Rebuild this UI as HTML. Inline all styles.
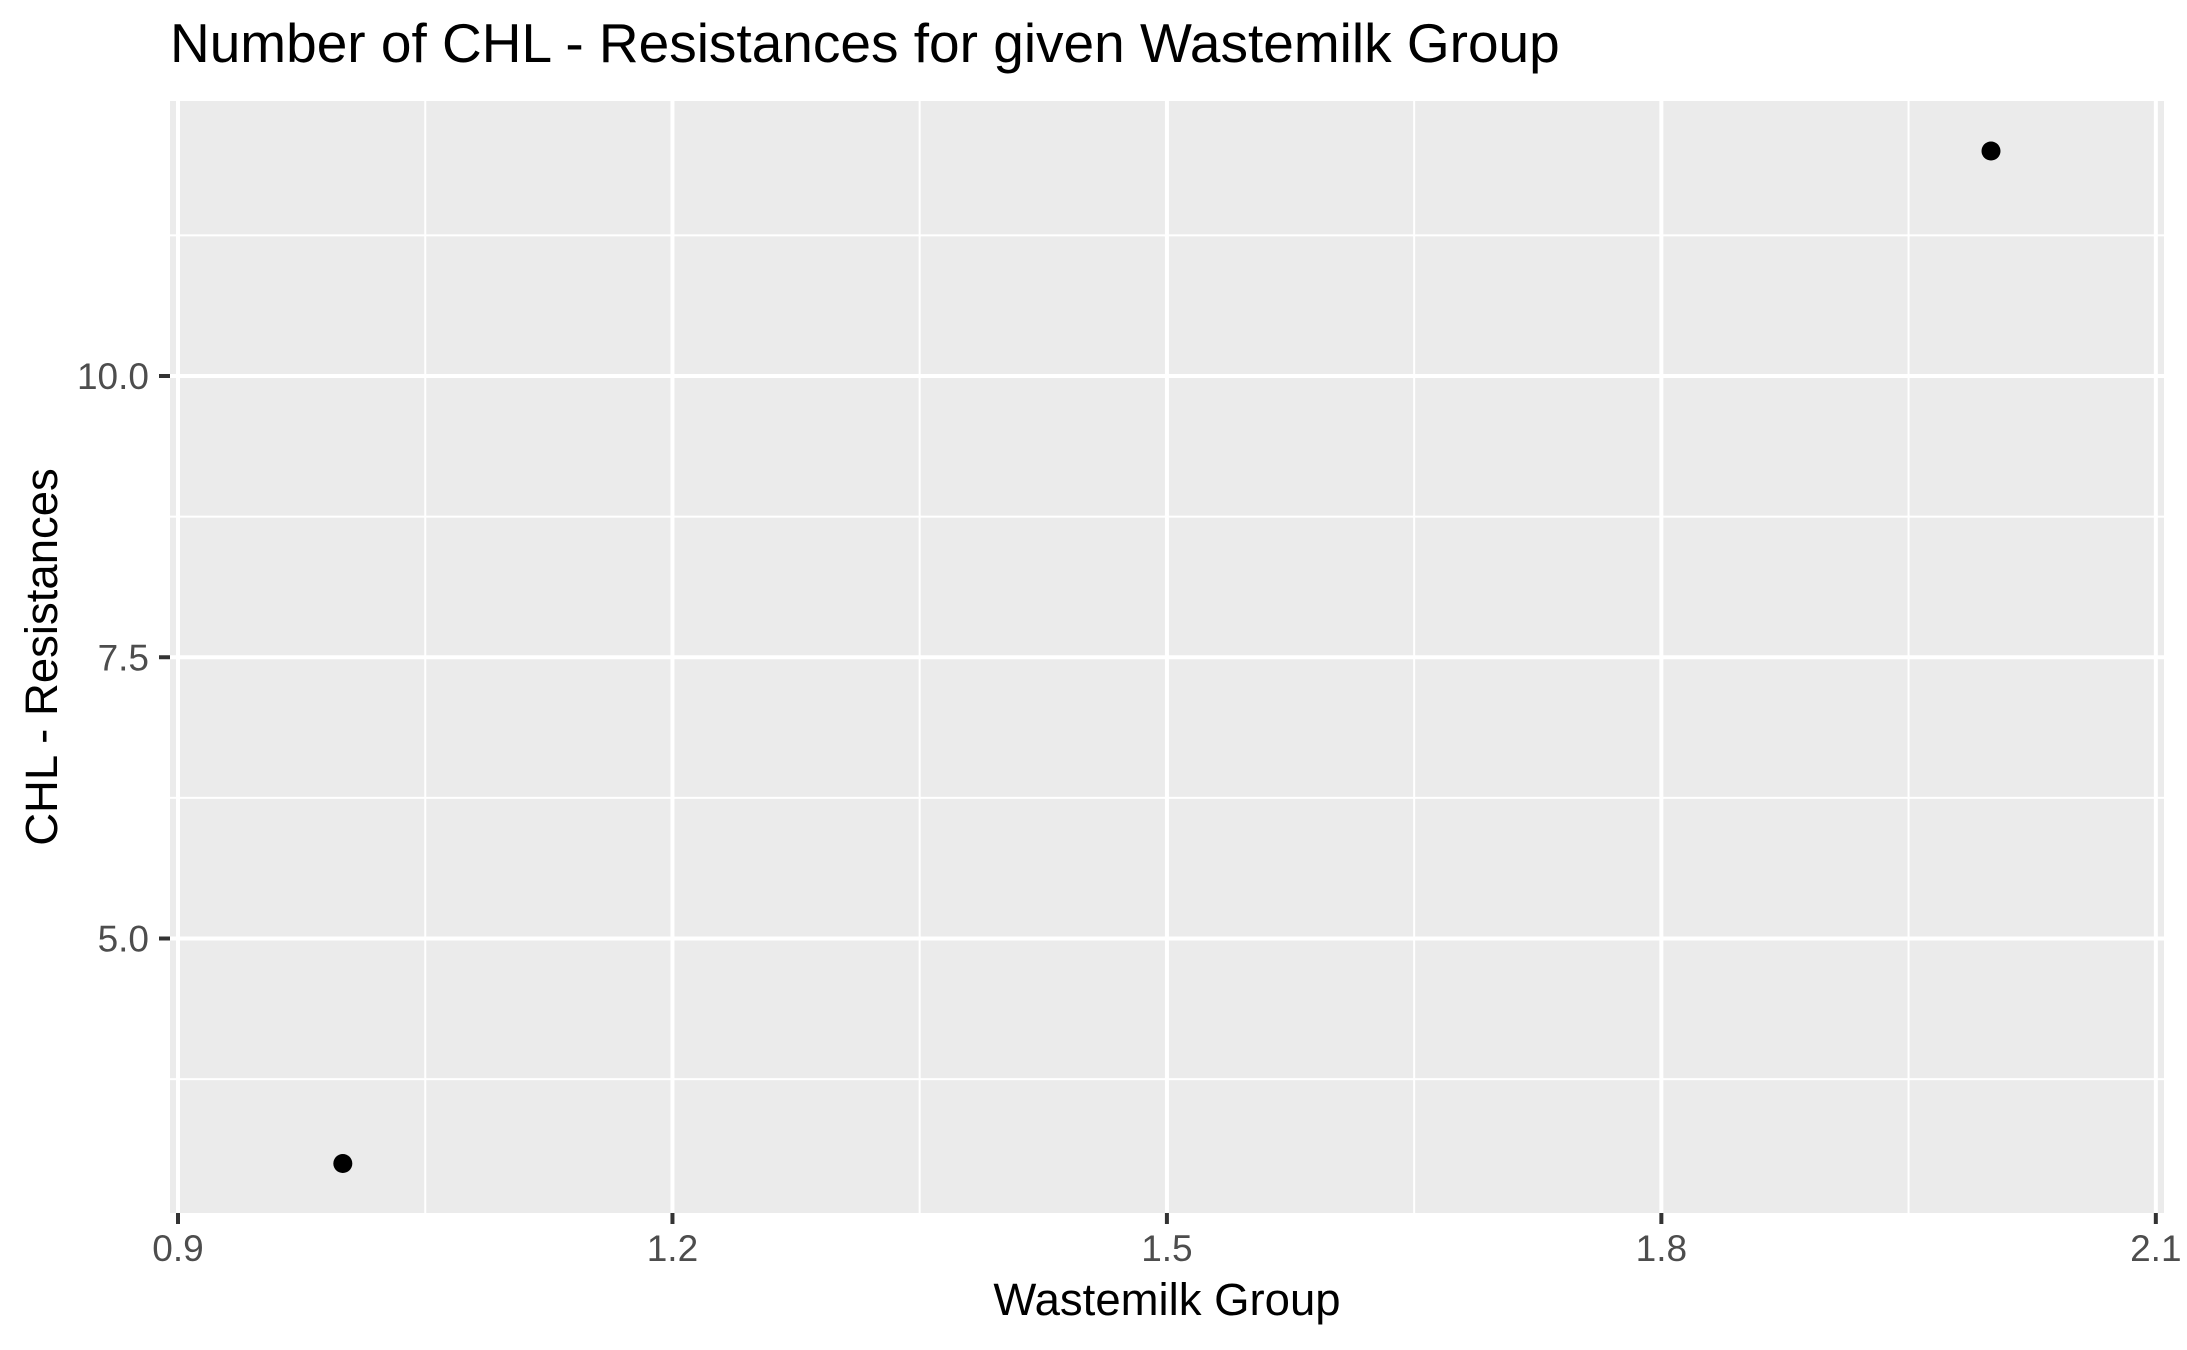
<!DOCTYPE html>
<html><head><meta charset="utf-8"><style>
html,body{margin:0;padding:0;background:#fff}
svg{display:block}
text{font-family:"Liberation Sans",Arial,sans-serif}
</style></head><body>
<svg id="chart" width="2187" height="1350" viewBox="0 0 2187 1350">
<rect x="0" y="0" width="2187" height="1350" fill="#fff"/>
<text x="170" y="62" font-size="55" fill="#000">Number of CHL - Resistances for given Wastemilk Group</text>
<rect x="170" y="101" width="1994" height="1112" fill="#ebebeb"/>
<g id="grid"></g>
<g id="xaxis"></g>
<g id="yaxis"></g>
<g id="points"></g>
<text x="1167" y="1315" font-size="45.5" text-anchor="middle" fill="#000">Wastemilk Group</text>
<text transform="translate(57,657) rotate(-90)" font-size="45.5" text-anchor="middle" fill="#000">CHL - Resistances</text>
</svg>
<script>
const xValues = [1, 2];
const yValues = [3, 12];
const xTicks = [0.9, 1.2, 1.5, 1.8, 2.1];
const xTickLabels = ["0.9", "1.2", "1.5", "1.8", "2.1"];
const xMinor = [1.05, 1.35, 1.65, 1.95];
const yTicks = [5, 7.5, 10];
const yTickLabels = ["5.0", "7.5", "10.0"];
const yMinor = [3.75, 6.25, 8.75, 11.25];

const PL = 170, PR = 2164, PT = 101, PB = 1213;
function sx(v){ return 178 + (v - 0.9) * (1991 - 178) / 1.1; }
function sy(v){ return 376 - (v - 10) * (376 - 151) / 2; }
const NS = "http://www.w3.org/2000/svg";
function mk(tag, attrs, parent){
  const e = document.createElementNS(NS, tag);
  for (const k in attrs) e.setAttribute(k, attrs[k]);
  parent.appendChild(e); return e;
}
const grid = document.getElementById('grid');
xMinor.forEach(v => {
  const l = mk('line', {x1:sx(v), x2:sx(v), y1:PT, y2:PB, stroke:'#fff', 'stroke-width':2}, grid);
  
  
});
yMinor.forEach(v => {
  const l = mk('line', {x1:PL, x2:PR, y1:sy(v), y2:sy(v), stroke:'#fff', 'stroke-width':2}, grid);
  
  
});
xTicks.forEach(v => {
  const l = mk('line', {x1:sx(v), x2:sx(v), y1:PT, y2:PB, stroke:'#fff', 'stroke-width':4}, grid);
  
  
});
yTicks.forEach(v => {
  const l = mk('line', {x1:PL, x2:PR, y1:sy(v), y2:sy(v), stroke:'#fff', 'stroke-width':4}, grid);
  
  
});
const xa = document.getElementById('xaxis');
xTicks.forEach((v, i) => {
  const t = mk('line', {x1:sx(v), x2:sx(v), y1:PB, y2:PB+11, stroke:'#333', 'stroke-width':4}, xa);
  
  
  const tx = mk('text', {x:sx(v), y:1261, 'font-size':37, fill:'#4d4d4d', 'text-anchor':'middle'}, xa);
  tx.textContent = xTickLabels[i];
  
  
});
const ya = document.getElementById('yaxis');
yTicks.forEach((v, i) => {
  const t = mk('line', {x1:PL-11, x2:PL, y1:sy(v), y2:sy(v), stroke:'#333', 'stroke-width':4}, ya);
  
  
  const tx = mk('text', {x:149, y:sy(v)+13, 'font-size':37, fill:'#4d4d4d', 'text-anchor':'end'}, ya);
  tx.textContent = yTickLabels[i];
  
  
});
const pts = document.getElementById('points');
xValues.forEach((v, i) => {
  const c = mk('circle', {cx:sx(v), cy:sy(yValues[i]), r:9.5, fill:'#000'}, pts);
  
  
});
</script>
</body></html>
